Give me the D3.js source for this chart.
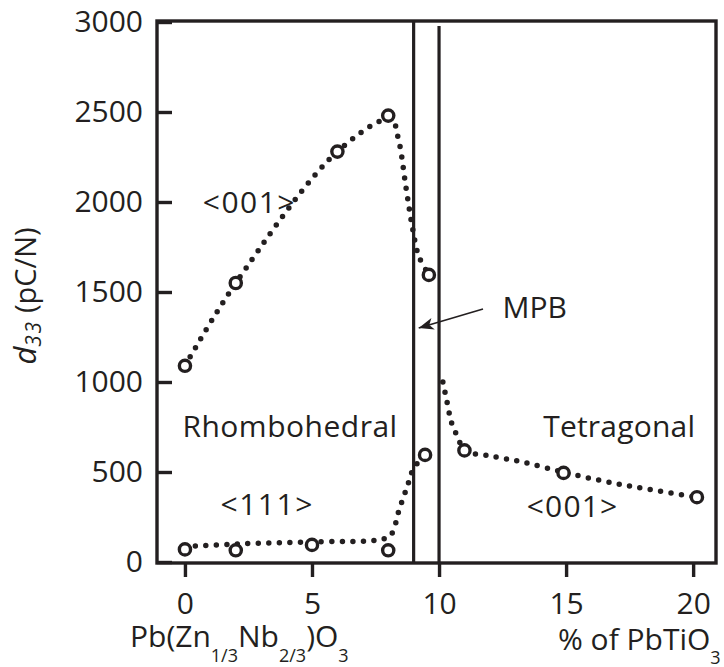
<!DOCTYPE html>
<html>
<head>
<meta charset="utf-8">
<script src="https://cdn.jsdelivr.net/npm/d3@7"></script>
<style>
  body { margin: 0; background: #fff; }
  text { font-family: "Open Sans", sans-serif; fill: #231f20; }
</style>
</head>
<body>
<div id="chart"></div>
<script>
// measured points (circles)
var rho001X = [0, 2, 6, 8, 9.6];
var rho001Y = [1090, 1550, 2280, 2480, 1595];
var rho111X = [0, 2, 5, 8, 9.45];
var rho111Y = [70, 65, 95, 65, 595];
var tet001X = [11, 14.9, 20.15];
var tet001Y = [620, 495, 360];

// dotted guide curves as drawn in the figure
var rho001LineX = [0, 2, 6, 8.1, 8.4, 8.7, 8.95, 9.2, 9.6];
var rho001LineY = [1090, 1550, 2280, 2460, 2350, 2080, 1860, 1700, 1595];
var rho111LineX = [0, 2, 5, 7.7, 8.1, 8.45, 8.75, 9.0, 9.45];
var rho111LineY = [85, 100, 112, 125, 150, 300, 420, 520, 595];
var tet001LineX = [10.15, 10.3, 10.5, 10.75, 11, 12, 13.3, 15, 16.8, 18, 20.15];
var tet001LineY = [1000, 900, 770, 690, 620, 590, 555, 495, 440, 410, 360];

var xTicks = [0, 5, 10, 15, 20];
var yTicks = [0, 500, 1000, 1500, 2000, 2500, 3000];
var boundaries = [9, 10];

var width = 724,
    height = 667,
    margin = { top: 21, right: 8, bottom: 104, left: 157 };

var svg = d3.select('#chart')
    .append('svg')
    .attr('width', width)
    .attr('height', height);

var x = d3.scaleLinear()
    .domain([-1.1, 20.9])
    .range([margin.left, width - margin.right]);
var y = d3.scaleLinear()
    .domain([0, 3000])
    .range([height - margin.bottom - 1, margin.top + 1]);

var ink = '#231f20';

// axes
var yAxis = d3.axisLeft(y).tickValues(yTicks).tickSize(-15).tickPadding(14)
    .tickFormat(d3.format('d'));
var xAxis = d3.axisBottom(x).tickValues(xTicks).tickSize(14).tickPadding(16)
    .tickFormat(d3.format('d'));

var gy = svg.append('g')
    .attr('transform', `translate(${margin.left},0)`)
    .call(yAxis);
var gx = svg.append('g')
    .attr('transform', `translate(0,${height - margin.bottom})`)
    .call(xAxis);

[gx, gy].forEach(g => {
    g.select('.domain').remove();
    g.selectAll('.tick line').attr('stroke', ink).attr('stroke-width', 3.4);
    g.selectAll('.tick text')
        .attr('font-size', 30)
        .attr('font-family', '"Open Sans", sans-serif')
        .attr('fill', ink);
});

// frame
svg.append('rect')
    .attr('x', margin.left)
    .attr('y', margin.top)
    .attr('width', width - margin.right - margin.left)
    .attr('height', height - margin.bottom - margin.top)
    .attr('fill', 'none')
    .attr('stroke', ink)
    .attr('stroke-width', 3.4);

// MPB boundaries
svg.append('line')
    .attr('x1', x(boundaries[0])).attr('x2', x(boundaries[0]))
    .attr('y1', margin.top).attr('y2', height - margin.bottom)
    .attr('stroke', ink).attr('stroke-width', 3.2);
svg.append('line')
    .attr('x1', x(boundaries[1])).attr('x2', x(boundaries[1]))
    .attr('y1', margin.top + 5).attr('y2', height - margin.bottom)
    .attr('stroke', ink).attr('stroke-width', 3.2);

// dotted curves
var line = d3.line()
    .x(d => x(d[0]))
    .y(d => y(d[1]))
    .curve(d3.curveCatmullRom.alpha(0.5));

[[rho001LineX, rho001LineY], [rho111LineX, rho111LineY], [tet001LineX, tet001LineY]]
    .forEach(s => {
        svg.append('path')
            .datum(s[0].map((v, i) => [v, s[1][i]]))
            .attr('d', line)
            .attr('fill', 'none')
            .attr('stroke', ink)
            .attr('stroke-width', 5.5)
            .attr('stroke-linecap', 'round')
            .attr('stroke-dasharray', '0 10.5');
    });

// circles
[[rho001X, rho001Y], [rho111X, rho111Y], [tet001X, tet001Y]].forEach(s => {
    svg.selectAll(null)
        .data(s[0].map((v, i) => [v, s[1][i]]))
        .enter()
        .append('circle')
        .attr('cx', d => x(d[0]))
        .attr('cy', d => y(d[1]))
        .attr('r', 5.6)
        .attr('fill', '#fff')
        .attr('stroke', ink)
        .attr('stroke-width', 3.4);
});

// labels inside
function label(txt, xv, yv, spacing) {
    svg.append('text')
        .attr('x', x(xv))
        .attr('y', y(yv))
        .attr('font-size', 30)
        .attr('letter-spacing', spacing || 0)
        .text(txt);
}
label('<001>', 0.7, 1940, 1.5);
label('Rhombohedral', -0.1, 694, 0.5);
label('<111>', 1.4, 260, 1.5);
label('<001>', 13.45, 250, 1.2);
label('Tetragonal', 14.1, 694, 0.2);
label('MPB', 12.5, 1355);

// MPB arrow
svg.append('defs').append('marker')
    .attr('id', 'arr')
    .attr('viewBox', '-16 -8 18 16')
    .attr('markerWidth', 18).attr('markerHeight', 16)
    .attr('markerUnits', 'userSpaceOnUse')
    .attr('orient', 'auto')
    .append('path')
    .attr('d', 'M0,0 L-15,-6 L-11,0 L-15,6 Z')
    .attr('fill', ink);
svg.append('line')
    .attr('x1', x(11.73)).attr('y1', y(1405))
    .attr('x2', x(9.2)).attr('y2', y(1300))
    .attr('stroke', ink).attr('stroke-width', 1.6)
    .attr('marker-end', 'url(#arr)');

// y label
var yl = svg.append('text')
    .attr('transform', 'translate(36,296) rotate(-90)')
    .attr('text-anchor', 'middle')
    .attr('font-size', 29);
yl.append('tspan').attr('font-style', 'italic').attr('font-size', 31).text('d');
yl.append('tspan').attr('font-style', 'italic').attr('font-size', 21)
    .attr('letter-spacing', 1.5).attr('dy', 5).text('33');
yl.append('tspan').attr('dy', -5).text(' (pC/N)');

// x labels
var xl = svg.append('text')
    .attr('x', 130).attr('y', 647)
    .attr('font-size', 30);
xl.append('tspan').text('Pb(Zn');
xl.append('tspan').attr('font-size', 18).attr('dy', 15).text('1/3');
xl.append('tspan').attr('dy', -15).text('Nb');
xl.append('tspan').attr('font-size', 18).attr('dy', 15).text('2/3');
xl.append('tspan').attr('dy', -15).text(')O');
xl.append('tspan').attr('font-size', 18).attr('dy', 15).text('3');

var xr = svg.append('text')
    .attr('x', 558).attr('y', 650)
    .attr('font-size', 30);
xr.append('tspan').text('% of PbTiO');
xr.append('tspan').attr('font-size', 18).attr('dy', 14).text('3');
</script>
</body>
</html>
